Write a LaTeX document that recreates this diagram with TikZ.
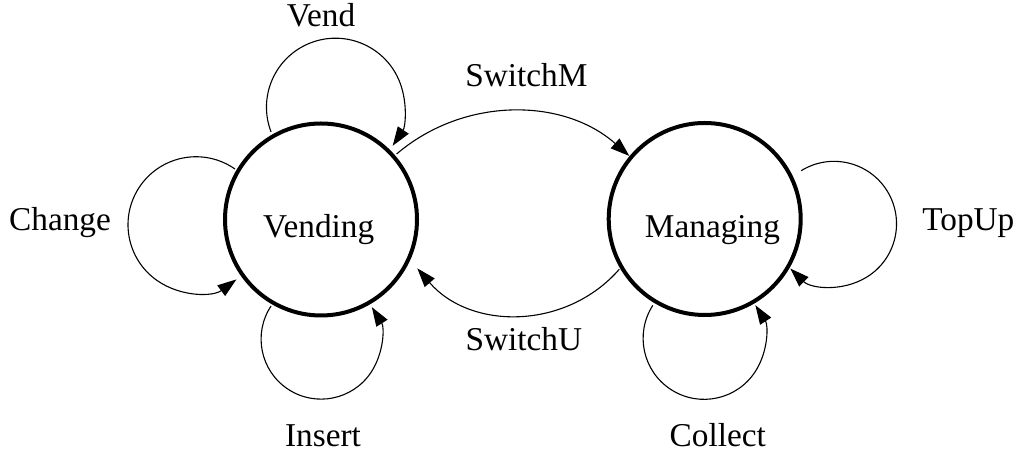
\documentclass[tikz,border=0pt]{standalone}
\usepackage{fontspec}
\setmainfont{Liberation Serif}
\usetikzlibrary{arrows.meta,calc}
\begin{document}
\begin{tikzpicture}[x=1pt,y=1pt,
  state/.style={circle,draw,line width=4pt,minimum size=192pt,inner sep=0pt},
  txt/.style={font=\fontsize{33.3}{40}\selectfont,inner sep=0pt,anchor=base},
  edge/.style={line width=1.1pt,-{Triangle[length=19pt,width=13pt]}}
]
\useasboundingbox (0,0) rectangle (1022,454);
\node[state,label={[txt,xshift=-2.3pt,yshift=-10.5pt]center:Vending}] (V) at (321,234.5) {};
\node[state,label={[txt,xshift=7.8pt,yshift=-11pt]center:Managing}] (M) at (704.7,235) {};
% self loops
\draw[edge] ($(V)+(119.7:100.8)$) arc[start angle=201,end angle=-34,radius=69];
\draw[edge] ($(V)+(149.6:99.7)$) arc[start angle=55,end angle=306.5,radius=68];
\draw[edge] ($(V)+(240:99.9)$) arc[start angle=146.5,end angle=392.2,radius=60];
\draw[edge] ($(M)+(26.6:107.9)$) arc[start angle=121.7,end angle=-134.4,radius=62.5];
\draw[edge] ($(M)+(239:100.8)$) arc[start angle=147.3,end angle=392.9,radius=61];
% transitions
\draw[edge] ($(V)+(40.9:100)$) to[bend left=41,looseness=0.97] ($(M)+(140.1:98.3)$);
\draw[edge] ($(M)+(210.5:99.1)$) to[bend left=49,looseness=1.03] ($(V)+(-26.9:108)$);
% labels
\node[txt] (lVend) at (321,427.3) {Vend};
\node[txt] (lSwitchM) at (526.3,367.3) {SwitchM};
\node[txt] (lSwitchU) at (523.8,103) {SwitchU};
\node[txt] (lChange) at (60,223) {Change};
\node[txt] (lInsert) at (323,7.3) {Insert};
\node[txt] (lCollect) at (717.8,7.3) {Collect};
\node[txt] (lTopUp) at (968.3,223.3) {TopUp};
\end{tikzpicture}
\end{document}
